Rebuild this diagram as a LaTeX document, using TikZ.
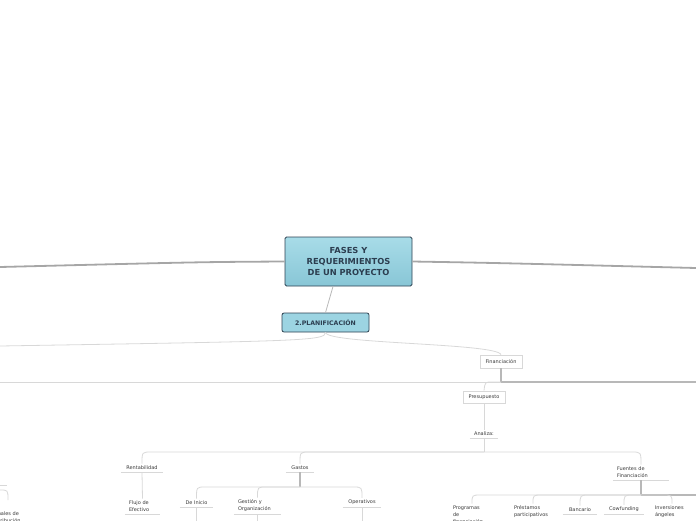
\documentclass[tikz,border=0pt]{standalone}
\usepackage{fontspec}
\setmainfont{DejaVu Sans}
\usetikzlibrary{calc}
\definecolor{boxborder}{HTML}{2E4252}
\definecolor{boxtext}{HTML}{2C3E50}
\definecolor{boxtop}{HTML}{A8DCE8}
\definecolor{boxbot}{HTML}{88C6D6}
\definecolor{subfill}{HTML}{9CD4E2}
\definecolor{maingrey}{HTML}{A6A6A6}
\definecolor{midgrey}{HTML}{B8B8B8}
\definecolor{lightgrey}{HTML}{D8D8D8}
\definecolor{leaftext}{HTML}{3A3A3A}
\begin{document}
\begin{tikzpicture}[x=1pt,y=-1pt,
  mainbox/.style={draw=boxborder, line width=0.9pt, top color=boxtop, bottom color=boxbot,
    rounded corners=1.5pt, minimum width=127pt, minimum height=49pt, align=center,
    font=\bfseries\fontsize{8.3}{11.3}\selectfont, text=boxtext, inner sep=0pt},
  subbox/.style={draw=boxborder, line width=0.8pt, fill=subfill, rounded corners=2pt,
    minimum width=87pt, minimum height=19pt, font=\bfseries\fontsize{6.2}{7}\selectfont,
    text=boxtext, inner sep=0pt},
  whitebox/.style={draw=lightgrey, line width=0.7pt, fill=white, minimum height=13pt,
    font=\fontsize{5}{7}\selectfont, text=leaftext, inner sep=0pt},
  uline/.style={draw=lightgrey, line width=0.8pt},
  leaf/.style={font=\fontsize{5}{7}\selectfont, text=leaftext, inner xsep=4pt, inner ysep=2pt,
    anchor=south, align=center,
    append after command={(\tikzlastnode.south west) edge[uline] (\tikzlastnode.south east)}},
  leafnl/.style={font=\fontsize{5}{7}\selectfont, text=leaftext, inner xsep=4pt, inner ysep=2pt,
    anchor=south, align=left},
  mainline/.style={draw=maingrey, line width=1.8pt},
  midline/.style={draw=midgrey, line width=1.1pt},
  thinline/.style={draw=lightgrey, line width=0.8pt}
]
\useasboundingbox (0,0) rectangle (696,520);
\clip (0,0) rectangle (696,520);

% central and sub nodes
\node[mainbox] (c) at (348.5,261.5) {FASES Y\\REQUERIMIENTOS\\DE UN PROYECTO};
\node[subbox] (p) at (325.5,322.5) {2.PLANIFICACIÓN};
\node[whitebox, minimum width=42pt] (f) at (501,361.5) {Financiación};
\node[whitebox, minimum width=42pt, minimum height=12pt] (pr) at (484,397) {Presupuesto};

% leaves
\node[leaf, minimum width=27pt] (an) at (484,438) {Analiza:};
\node[leaf, minimum width=42pt] (rent) at (142,472) {Rentabilidad};
\node[leaf, minimum width=28pt] (gas) at (300,472) {Gastos};
\node[leaf, text width=48pt, align=left] (fue) at (641,480) {Fuentes de\\Financiación};
\node[leaf, text width=27pt, align=left] (flu) at (142.5,514) {Flujo de\\Efectivo};
\node[leaf, minimum width=33pt] (ini) at (196.5,507) {De Inicio};
\node[leaf, text width=39pt, align=left] (ges) at (257.5,514) {Gestión y\\Organización};
\node[leaf, minimum width=38pt] (ope) at (362,507) {Operativos};
\node[leafnl, text width=38pt, anchor=north] (prog) at (472,503.5) {Programas\\de\\financiación};
\node[leafnl, text width=38pt, anchor=north] (pres) at (533,503.5) {Préstamos\\participativos};
\node[leaf, minimum width=34pt] (ban) at (580,514) {Bancario};
\node[leaf, minimum width=40pt] (cow) at (624,514) {Cowfunding};
\node[leafnl, text width=34pt, anchor=north] (inv) at (672,503.5) {Inversiones\\ángeles};
\node[leafnl, text width=40pt, anchor=north west, inner xsep=0pt] (can) at (-9,509.5) {Canales de\\distribución};

% free ends
\coordinate (L) at (0,267);
\coordinate (R) at (696,268);
\coordinate (PL) at (0,346);
\coordinate (HL) at (0,382);
\coordinate (HR) at (696,382);
\coordinate (fj) at (501,382);
\coordinate (aj) at (484,452);
\coordinate (gj) at (300,487);
\coordinate (fj2) at (641,495);
\coordinate (FR) at (696,495);
\coordinate (bot) at (0,530);

% main connectors
\draw[mainline] (c.west) .. controls (200,262) .. (L);
\draw[mainline] (c.east) .. controls (500,263) .. (R);
\draw[draw=midgrey, line width=0.8pt] ($(c.south)+(-15.5,0)$) -- (p.north);

\draw[thinline] (p.south) .. controls (326,341) and (300,341) .. (PL);
\draw[thinline] (p.south) .. controls (326,344) and (497,343) .. (f.north);

\draw[midline] (f.south) -- (fj);
\draw[midline] (fj) -- (HR);
\draw[thinline] (fj) -- (HL);
\draw[thinline] (fj) -- (492,382) .. controls (485,382) .. (pr.north);
\draw[thinline] (pr.south) -- (an.north);
\draw[thinline] (an.south) -- (aj);

\draw[thinline] (aj) -- (151,452) .. controls (142,452) .. (rent.north);
\draw[thinline] (aj) -- (309,452) .. controls (300,452) .. (gas.north);
\draw[thinline] (aj) -- (632,452) .. controls (641,452) .. (fue.north);

\draw[thinline] (rent.south) -- (flu.north);

\draw[midline] (gas.south) -- (gj);
\draw[thinline] (gj) -- (205,487) .. controls (196.5,487) .. (ini.north);
\draw[thinline] (gj) -- (266,487) .. controls (257.5,487) .. (ges.north);
\draw[thinline] (gj) -- (353,487) .. controls (362,487) .. (ope.north);
\draw[thinline] (ini.south) -- (ini.south |- bot);
\draw[thinline] (ges.south) -- (ges.south |- bot);
\draw[thinline] (ope.south) -- (ope.south |- bot);

\draw[midline] (fue.south) -- (fj2);
\draw[midline] (fj2) -- (FR);
\draw[thinline] (fj2) -- (481,495) .. controls (472,495) .. (prog.north);
\draw[thinline] (fj2) -- (542,495) .. controls (533,495) .. (pres.north);
\draw[thinline] (fj2) -- (589,495) .. controls (580,495) .. (ban.north);
\draw[thinline] (fj2) -- (633,495) .. controls (624,495) .. (cow.north);
\draw[thinline] (fj2) -- (663,495) .. controls (672,495) .. (inv.north);

% fragment at bottom left
\draw[thinline] (0,485) -- (7,485);
\draw[thinline] (0,490) .. controls (8,490) .. (8,500);
\end{tikzpicture}
\end{document}
